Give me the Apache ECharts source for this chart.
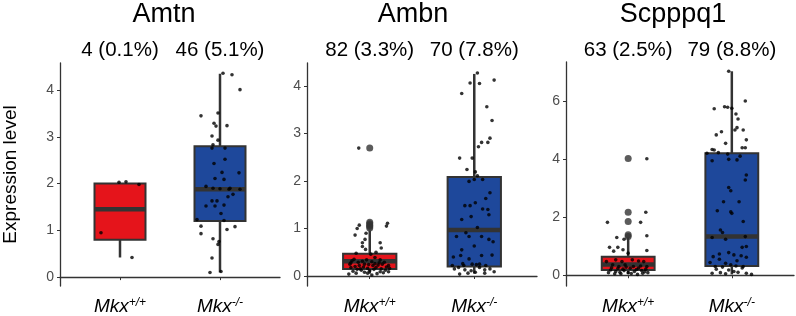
<!DOCTYPE html>
<html>
<head>
<meta charset="utf-8">
<script src="https://cdn.jsdelivr.net/npm/echarts@6/dist/echarts.min.js"></script>
<style>
  html, body { margin: 0; background: #fff; }
  #chart { width: 796px; height: 316px; }
</style>
</head>
<body>
<div id="chart"></div>
<script>
const genes = ["Amtn", "Ambn", "Scpppq1"];
const groups = ["+/+", "-/-"];
const countLabels = [
  ["4 (0.1%)", "46 (5.1%)"],
  ["82 (3.3%)", "70 (7.8%)"],
  ["63 (2.5%)", "79 (8.8%)"],
];
const yTicks = [[0, 1, 2, 3, 4], [0, 1, 2, 3, 4], [0, 2, 4, 6]];
const yRanges = [[-0.19, 4.58], [-0.21, 4.48], [-0.37, 7.34]];

// [low whisker, q1, median, q3, high whisker] per panel, per group
const boxStats = [
  [[0.42, 0.8, 1.45, 2.0, 2.0], [0.1, 1.2, 1.88, 2.8, 4.35]],
  [[0.05, 0.15, 0.31, 0.47, 0.96], [0.05, 0.2, 0.97, 2.08, 4.25]],
  [[0.04, 0.18, 0.37, 0.64, 1.3], [0.03, 0.32, 1.33, 4.2, 7.02]],
];

const outliers = [
  [[], []],
  [[2.69, 1.13, 1.1, 1.07, 1.04, 1.01], []],
  [[4.02, 2.17, 1.85, 1.39, 1.33], []],
];

// jittered cells: [x offset from group centre, expression]
const amtnWt = [[-0.19, 0.95], [-0.01, 2.03], [0.06, 2.04], [0.19, 1.98], [0.12, 0.42]];
const amtnKo = [
  [0.03, 4.36], [0.12, 4.33], [0.2, 4.01], [-0.19, 3.45], [-0.02, 3.51], [-0.06, 3.29], [-0.04, 3.23],
  [0.07, 3.24], [-0.08, 3.02], [-0.02, 2.93], [-0.08, 2.76], [0.05, 2.76], [-0.07, 2.83], [0.05, 2.52],
  [-0.06, 2.43], [0.02, 2.24], [0.19, 2.23], [-0.05, 2.11], [0.04, 2.09], [-0.14, 1.94], [-0.07, 1.9],
  [0.0, 1.89], [0.09, 1.88], [0.2, 1.88], [0.13, 1.77], [0.08, 1.72], [-0.08, 1.63], [-0.03, 1.63],
  [-0.05, 1.52], [0.04, 1.54], [0.01, 1.36], [-0.23, 1.23], [0.04, 1.21], [-0.19, 1.09], [0.15, 1.08],
  [0.07, 1.02], [-0.19, 0.93], [-0.07, 0.82], [-0.01, 0.76], [-0.02, 0.7], [-0.08, 0.41], [-0.1, 0.1],
  [0.01, 0.12], [0.1, 1.9], [-0.14, 1.52],
];
const ambnWt = [
  [-0.105, 2.69], [0.17, 1.11], [0.16, 1.05], [-0.1, 1.07], [-0.12, 1.0], [-0.14, 0.86], [-0.035, 0.9],
  [-0.045, 0.77], [0.1, 0.7], [-0.07, 0.7], [0.11, 0.59], [-0.07, 0.62], [-0.04, 0.56], [-0.13, 0.48],
  [0.01, 0.46], [0.06, 0.5], [-0.17, 0.32], [0.05, 0.39], [0.1, 0.34], [0.14, 0.29], [-0.19, 0.25],
  [-0.11, 0.29], [-0.05, 0.25], [0.03, 0.22], [0.08, 0.23], [0.18, 0.22], [-0.18, 0.18], [-0.09, 0.15],
  [-0.02, 0.16], [0.11, 0.15], [0.19, 0.16], [-0.2, 0.04], [-0.13, 0.06], [-0.05, 0.08], [-0.02, 0.06],
  [0.1, 0.09], [-0.08, 0.12], [0.02, 0.3], [-0.14, 0.2], [0.15, 0.12], [0.06, 0.18], [-0.03, 0.34],
  [0.12, 0.25], [-0.16, 0.1], [0.0, 0.11], [0.07, 0.05], [-0.1, 0.22], [0.16, 0.19], [-0.06, 0.19],
  [0.04, 0.14], [-0.12, 0.14], [0.09, 0.28], [0.13, 0.07], [-0.01, 0.24], [-0.18, 0.28], [0.05, 0.26],
  [-0.07, 0.31], [0.18, 0.09], [0.02, 0.02], [-0.15, 0.35],
];
const ambnKo = [
  [0.03, 4.27], [-0.04, 4.06], [0.05, 4.05], [0.19, 4.12], [-0.12, 3.84], [0.12, 3.56], [0.17, 3.27],
  [0.15, 2.9], [0.13, 2.81], [0.07, 2.81], [0.04, 2.72], [-0.14, 2.48], [-0.02, 2.48], [-0.07, 2.24],
  [0.01, 2.19], [0.03, 2.11], [0.08, 2.03], [-0.05, 1.99], [0.0, 2.03], [0.15, 1.75], [0.11, 1.63],
  [0.01, 1.54], [-0.09, 1.48], [-0.04, 1.48], [0.13, 1.4], [0.08, 1.41], [-0.12, 1.19], [-0.03, 1.25],
  [0.14, 1.29], [0.03, 1.02], [-0.08, 0.91], [-0.17, 0.83], [-0.05, 0.83], [0.07, 0.83], [0.14, 0.77],
  [0.18, 0.72], [0.0, 0.63], [-0.12, 0.55], [0.07, 0.43], [0.17, 0.44], [-0.13, 0.43], [-0.2, 0.4],
  [-0.05, 0.36], [-0.11, 0.26], [-0.02, 0.25], [0.02, 0.24], [0.05, 0.25], [0.11, 0.22], [0.15, 0.15],
  [-0.15, 0.18], [-0.19, 0.15], [-0.09, 0.13], [-0.03, 0.11], [0.01, 0.08], [0.1, 0.13], [0.1, 0.06],
  [0.19, 0.09], [-0.14, 0.04], [-0.06, 0.06], [0.05, 0.18], [-0.1, 0.22], [-0.21, 0.22],
];
const scpWt = [
  [0.18, 4.01], [0.17, 2.17], [-0.2, 1.82], [0.12, 1.82], [0.18, 1.36], [-0.11, 1.3], [-0.04, 1.24],
  [-0.18, 0.96], [-0.1, 0.96], [-0.05, 0.88], [-0.14, 0.83], [0.18, 0.85], [0.0, 0.76], [-0.12, 0.53],
  [-0.06, 0.47], [0.04, 0.53], [0.1, 0.49], [0.15, 0.47], [-0.15, 0.36], [-0.09, 0.3], [-0.03, 0.36],
  [0.05, 0.3], [0.12, 0.32], [0.18, 0.3], [-0.17, 0.18], [-0.12, 0.13], [-0.04, 0.16], [0.0, 0.09],
  [0.06, 0.13], [0.14, 0.07], [0.19, 0.09], [-0.07, 0.05], [0.09, 0.03], [-0.19, 0.09], [0.17, 0.21],
  [0.02, 0.24], [-0.1, 0.23], [-0.21, 0.47], [-0.16, 0.26], [0.08, 0.2], [-0.02, 0.28], [0.13, 0.16],
  [-0.08, 0.1], [0.03, 0.06], [-0.13, 0.05], [0.16, 0.12], [-0.05, 0.21], [0.1, 0.25],
];
const scpKo = [
  [-0.03, 7.02], [0.13, 6.0], [-0.17, 5.73], [-0.07, 5.8], [-0.04, 5.78], [0.0, 5.75], [0.04, 5.55],
  [0.06, 5.38], [-0.15, 4.83], [-0.1, 4.94], [0.03, 5.0], [0.05, 5.08], [0.11, 5.0], [0.14, 4.66],
  [-0.06, 4.54], [0.1, 4.39], [0.13, 4.39], [-0.19, 4.33], [-0.17, 4.31], [-0.13, 4.22], [-0.24, 4.2],
  [-0.04, 4.17], [0.08, 4.1], [-0.19, 3.94], [-0.03, 3.99], [0.05, 3.97], [0.14, 3.45], [0.13, 3.28],
  [-0.03, 3.02], [-0.01, 2.91], [0.07, 2.53], [-0.08, 2.53], [0.0, 2.13], [-0.14, 2.22], [-0.01, 2.18],
  [0.11, 1.85], [-0.11, 1.56], [-0.09, 1.47], [0.13, 1.33], [-0.06, 1.24], [-0.19, 1.3], [-0.03, 0.78],
  [0.1, 0.96], [0.14, 0.99], [-0.12, 0.73], [0.02, 0.7], [0.09, 0.67], [-0.18, 0.64], [0.14, 0.62],
  [0.05, 0.5], [-0.12, 0.55], [-0.21, 0.44], [-0.06, 0.41], [-0.01, 0.36], [0.04, 0.32], [-0.09, 0.28],
  [0.1, 0.25], [-0.15, 0.21], [-0.03, 0.18], [0.02, 0.13], [-0.11, 0.09], [0.06, 0.1], [0.14, 0.07],
  [-0.19, 0.07], [-0.06, 0.05], [0.19, 0.03], [-0.16, 0.3], [0.11, 0.3],
];
const jitter = [[amtnWt, amtnKo], [ambnWt, ambnKo], [scpWt, scpKo]];

const boxColors = ["#e5141b", "#1e489b"];
const boxWidth = 0.51;
const font = "Liberation Sans, Arial, sans-serif";

const grids = [
  { left: 54, right: 516, top: 63, bottom: 30 },
  { left: 307, right: 259, top: 63, bottom: 29 },
  { left: 566, right: 2, top: 62, bottom: 30 },
];

const renderBox = (params, api) => {
  const x = api.value(0);
  const cx = api.coord([x, 0])[0];
  const yLow = api.coord([x, api.value(1)])[1];
  const yQ1 = api.coord([x, api.value(2)])[1];
  const yMed = api.coord([x, api.value(3)])[1];
  const yQ3 = api.coord([x, api.value(4)])[1];
  const yHigh = api.coord([x, api.value(5)])[1];
  const w = api.size([boxWidth, 0])[0];
  const line = { stroke: "#333", lineWidth: 2.5 };
  return {
    type: "group",
    children: [
      { type: "line", shape: { x1: cx, y1: yLow, x2: cx, y2: yQ1 }, style: line },
      { type: "line", shape: { x1: cx, y1: yQ3, x2: cx, y2: yHigh }, style: line },
      {
        type: "rect",
        shape: { x: cx - w / 2, y: yQ3, width: w, height: yQ1 - yQ3 },
        style: { fill: boxColors[api.value(6)], stroke: "#333", lineWidth: 2 },
      },
      { type: "line", shape: { x1: cx - w / 2, y1: yMed, x2: cx + w / 2, y2: yMed }, style: { stroke: "#333", lineWidth: 4.5 } },
    ],
  };
};

const xAxes = genes.map((g, i) => ({
  type: "value",
  gridIndex: i,
  min: 0.4,
  max: 2.6,
  splitLine: { show: false },
  axisLine: { lineStyle: { color: "#333", width: 1.3 } },
  axisTick: { customValues: [1, 2], length: 3, lineStyle: { color: "#333" } },
  axisLabel: {
    customValues: [1, 2],
    margin: 11,
    formatter: (v) => `{i|Mkx}{s|${groups[v - 1]}}`,
    rich: {
      i: { fontFamily: font, fontStyle: "italic", fontSize: 19, color: "#000" },
      s: { fontFamily: font, fontStyle: "italic", fontSize: 12, color: "#000", verticalAlign: "top" },
    },
  },
}));

const yAxes = genes.map((g, i) => ({
  type: "value",
  gridIndex: i,
  min: yRanges[i][0],
  max: yRanges[i][1],
  splitLine: { show: false },
  axisLine: { show: true, lineStyle: { color: "#333", width: 1.3 } },
  axisTick: { show: true, customValues: yTicks[i], length: 3, lineStyle: { color: "#333" } },
  axisLabel: { customValues: yTicks[i], margin: 6, fontFamily: font, fontSize: 14, color: "#4d4d4d" },
  name: i === 0 ? "Expression level" : "",
  nameLocation: "middle",
  nameGap: 40,
  nameTextStyle: { fontFamily: font, fontSize: 19, color: "#000" },
}));

const series = [];
genes.forEach((g, i) => {
  series.push({
    type: "custom",
    xAxisIndex: i,
    yAxisIndex: i,
    renderItem: renderBox,
    clip: false,
    encode: { x: 0, y: [1, 2, 3, 4, 5] },
    data: boxStats[i].map((s, k) => [k + 1, ...s, k]),
    silent: true,
  });
  series.push({
    type: "scatter",
    xAxisIndex: i,
    yAxisIndex: i,
    symbolSize: 7,
    itemStyle: { color: "#333" },
    data: outliers[i].flatMap((vals, k) => vals.map((v) => [k + 1, v])),
    silent: true,
  });
  series.push({
    type: "scatter",
    xAxisIndex: i,
    yAxisIndex: i,
    symbolSize: 3.6,
    itemStyle: { color: "#000" },
    data: jitter[i].flatMap((pts, k) => pts.map(([dx, v]) => [k + 1 + dx, v])),
    silent: true,
  });
});

const chart = echarts.init(document.getElementById("chart"), null, { renderer: "canvas" });
chart.setOption({
  animation: false,
  backgroundColor: "#fff",
  grid: grids,
  xAxis: xAxes,
  yAxis: yAxes,
  series,
});

// titles and cell counts placed over the axes
const titleX = [164, 413, 673];
const texts = [];
genes.forEach((g, i) => {
  texts.push({
    type: "text",
    x: titleX[i],
    y: 15,
    style: { text: g, fontFamily: font, fontSize: 27, fill: "#000", textAlign: "center", textVerticalAlign: "middle" },
  });
  countLabels[i].forEach((lbl, k) => {
    const px = chart.convertToPixel({ xAxisIndex: i, yAxisIndex: i }, [k + 1, 0])[0];
    texts.push({
      type: "text",
      x: px,
      y: 50,
      style: { text: lbl, fontFamily: font, fontSize: 20.5, fill: "#000", textAlign: "center", textVerticalAlign: "middle" },
    });
  });
});
chart.setOption({ graphic: texts });
</script>
</body>
</html>
